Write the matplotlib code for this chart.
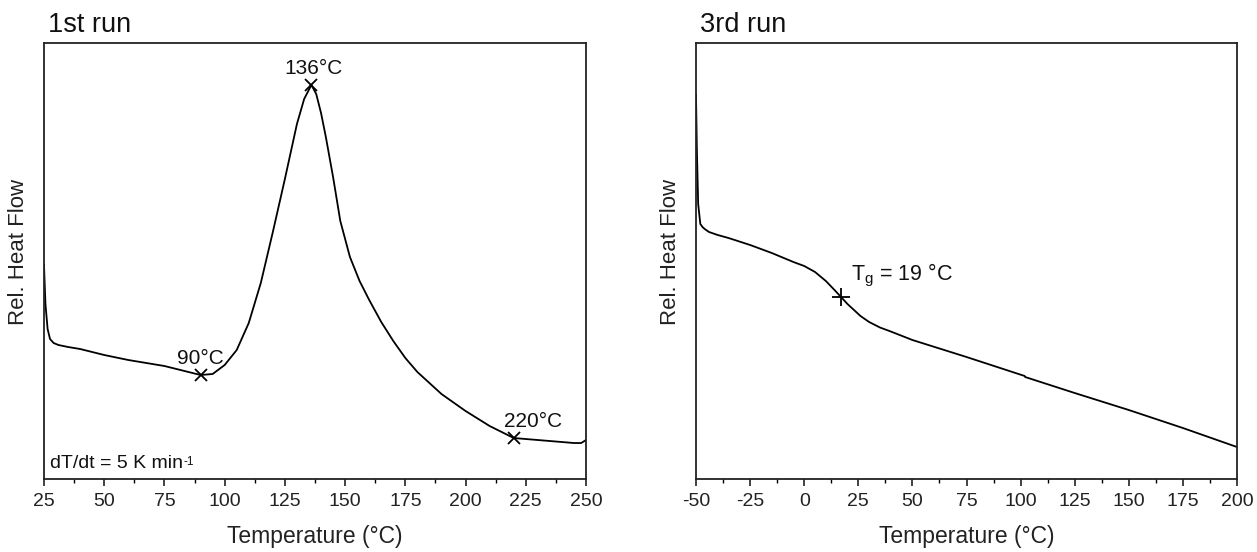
import numpy as np
import matplotlib
matplotlib.use('Agg')
import matplotlib.pyplot as plt
from matplotlib.ticker import MultipleLocator

plt.rcParams['font.family'] = ['Liberation Sans', 'DejaVu Sans']
plt.rcParams['axes.unicode_minus'] = False

# 1st run, heat flow in arbitrary units
T1 = [25, 25.6, 26.5, 27.5, 29, 31, 35, 40, 50, 60, 75, 85, 90, 95, 100, 105, 110,
      115, 120, 125, 130, 133, 136, 138, 140, 142, 145, 148, 152, 156, 160, 165, 170, 175,
      180, 190, 200, 210, 220, 230, 240, 245, 248, 250]
H1 = [2.14, 1.75, 1.50, 1.40, 1.36, 1.34, 1.32, 1.30, 1.24, 1.19, 1.13, 1.07, 1.04, 1.05, 1.14, 1.29, 1.56,
      1.96, 2.47, 3.00, 3.55, 3.80, 3.94, 3.85, 3.66, 3.42, 3.02, 2.58, 2.22, 1.98, 1.79, 1.57, 1.38, 1.21,
      1.07, 0.85, 0.68, 0.53, 0.41, 0.39, 0.37, 0.36, 0.36, 0.39]
peaks1 = [90, 136, 220]
peak_labels1 = ['90°C', '136°C', '220°C']
label_dx1 = [0, 1, 8]

# 3rd run
T3 = [-50, -49.6, -49, -48, -47, -46, -44, -40, -35, -25, -15, -5, 0, 5, 10, 14, 17,
      20, 23, 26, 30, 35, 40, 50, 75, 101.9, 102.1, 125, 150, 175, 200]
H3 = [3.84, 3.30, 2.75, 2.55, 2.52, 2.50, 2.47, 2.44, 2.41, 2.34, 2.26, 2.17, 2.13, 2.07, 1.98, 1.89, 1.82,
      1.75, 1.69, 1.63, 1.57, 1.515, 1.475, 1.39, 1.22, 1.03, 1.02, 0.86, 0.69, 0.51, 0.32]
Tg = 17

def interp(x, xs, ys):
    return float(np.interp(x, xs, ys))

fig = plt.figure(figsize=(12.57, 5.52), dpi=100)
ax1 = fig.add_axes([0.035, 0.1322, 0.4312, 0.790])
ax2 = fig.add_axes([0.5537, 0.1322, 0.4304, 0.790])

for ax in (ax1, ax2):
    ax.set_ylim(0, 4.36)
    ax.set_yticks([])
    ax.xaxis.set_major_locator(MultipleLocator(25))
    ax.xaxis.set_minor_locator(MultipleLocator(12.5))
    ax.tick_params(axis='x', which='major', direction='out', length=5, width=1.2,
                   labelsize=14, pad=5, colors='#222222')
    ax.tick_params(axis='x', which='minor', direction='out', length=3, width=1.0)
    for s in ax.spines.values():
        s.set_linewidth(1.3)
        s.set_color('#222222')
    ax.set_xlabel('Temperature (°C)', fontsize=16.5, labelpad=11, color='#222222')
    ax.set_ylabel('Rel. Heat Flow', fontsize=16, color='#222222')
    ax.yaxis.set_label_coords(-0.028, 0.52)

# left panel
ax1.plot(T1, H1, color='black', lw=1.3)
ax1.set_xlim(25, 250)
ax1.text(0.008, 1.012, '1st run', transform=ax1.transAxes, fontsize=19.5,
         ha='left', va='bottom', color='#111111')
for t, lab, dx in zip(peaks1, peak_labels1, label_dx1):
    h = interp(t, T1, H1)
    ax1.plot(t, h, marker='x', ms=9, mew=1.3, color='black')
    ax1.text(t + dx, h + 0.07, lab, ha='center', va='bottom', fontsize=15, color='#111111')
rate = ax1.text(0.012, 0.015, 'dT/dt = 5 K min', transform=ax1.transAxes,
                fontsize=14, ha='left', va='bottom', color='#111111')
ax1.annotate('-1', xy=(1.0, 0.98), xycoords=rate, ha='left', va='top',
             fontsize=8.5, color='#111111')

# right panel
ax2.plot(T3, H3, color='black', lw=1.3)
ax2.set_xlim(-50, 200)
ax2.text(0.008, 1.012, '3rd run', transform=ax2.transAxes, fontsize=19.5,
         ha='left', va='bottom', color='#111111')
hg = interp(Tg, T3, H3)
ax2.plot(Tg, hg, marker='+', ms=13, mew=1.3, color='black')
ax2.text(Tg + 4.5, hg + 0.08, 'T$_\\mathregular{g}$ = 19 °C', ha='left', va='bottom',
         fontsize=15.5, color='#111111')

fig.savefig('out.png', dpi=100)
